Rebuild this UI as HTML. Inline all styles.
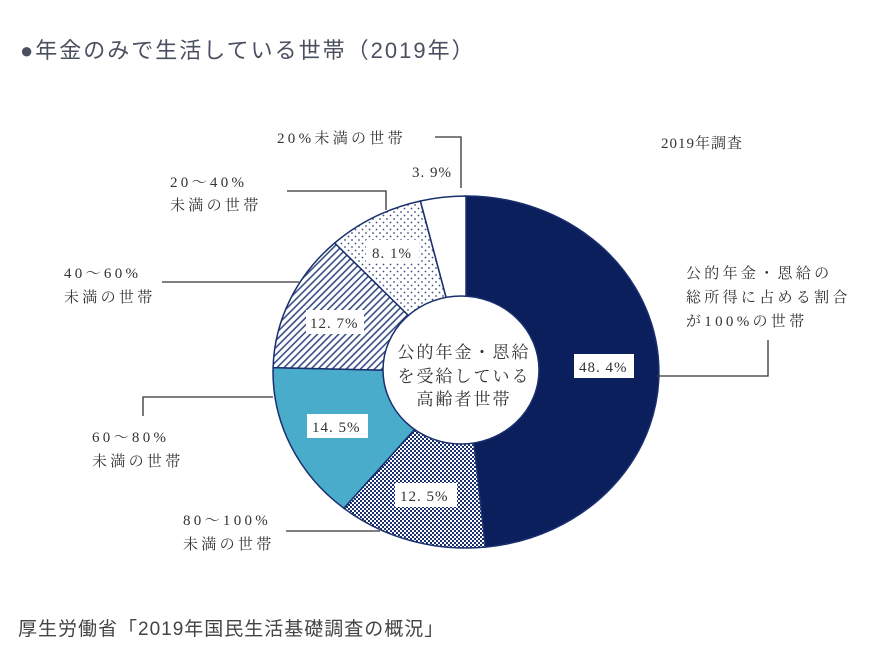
<!DOCTYPE html>
<html><head><meta charset="utf-8"><style>
body{margin:0;background:#fff;width:882px;height:660px;overflow:hidden}
svg{display:block}
.s{font-family:"Liberation Serif","Noto Serif CJK JP",serif;font-size:15px;fill:#333;letter-spacing:3.3px}
.p{font-family:"Liberation Serif","Noto Serif CJK JP",serif;font-size:15px;fill:#333;letter-spacing:1px}
.c{font-family:"Liberation Serif","Noto Serif CJK JP",serif;font-size:17px;fill:#333;letter-spacing:2px}
</style></head><body>
<svg width="882" height="660" xmlns="http://www.w3.org/2000/svg">
<defs>
<pattern id="chk" width="4" height="4" patternUnits="userSpaceOnUse">
<rect width="4" height="4" fill="#fff"/><rect width="2" height="2" fill="#1a2f6e"/><rect x="2" y="2" width="2" height="2" fill="#1a2f6e"/></pattern>
<pattern id="hat" width="5" height="5" patternUnits="userSpaceOnUse" patternTransform="rotate(45)">
<rect width="5" height="5" fill="#fff"/><rect width="1.6" height="5" fill="#3a4f86"/></pattern>
<pattern id="dot" width="7" height="7" patternUnits="userSpaceOnUse">
<rect width="7" height="7" fill="#fff"/><circle cx="2" cy="2" r="0.9" fill="#3a4f86"/><circle cx="5.5" cy="5.5" r="0.9" fill="#3a4f86"/></pattern>
</defs>
<text x="20" y="58" font-family="'Liberation Sans','Noto Sans CJK JP',sans-serif" font-size="22" letter-spacing="2" fill="#4a5060">●年金のみで生活している世帯（2019年）</text>
<g stroke="#1a2f6e" stroke-width="1.5" stroke-linejoin="round">
<path d="M466,372 L466,196 A193,176 0 0 1 485.4,547.1 Z" fill="#0b1f5c"/>
<path d="M466,372 L485.4,547.1 A193,176 0 0 1 343.9,508.3 Z" fill="url(#chk)"/>
<path d="M466,372 L343.9,508.3 A193,176 0 0 1 273.1,367.6 Z" fill="#4aaccb"/>
<path d="M466,372 L273.1,367.6 A193,176 0 0 1 334.7,243 Z" fill="url(#hat)"/>
<path d="M466,372 L334.7,243 A193,176 0 0 1 420.4,201 Z" fill="url(#dot)"/>
<path d="M466,372 L420.4,201 A193,176 0 0 1 466,196 Z" fill="#fff"/>
<ellipse cx="461" cy="370" rx="78" ry="74" fill="#fff"/>
</g>
<g fill="#fff">
<rect x="574" y="354" width="60" height="24"/><rect x="366" y="240" width="53" height="23"/>
<rect x="306" y="310" width="58" height="24"/><rect x="307" y="414" width="61" height="24"/>
<rect x="395" y="483" width="62" height="24"/></g>
<g class="p">
<text x="579" y="372">48. 4%</text><text x="372" y="258">8. 1%</text>
<text x="310" y="328">12. 7%</text><text x="312" y="432">14. 5%</text><text x="400" y="501">12. 5%</text>
<text x="412" y="177">3. 9%</text>
</g>
<g class="s">
<text x="277" y="143">20%未満の世帯</text>
<text x="170" y="187">20～40%</text><text x="170" y="210">未満の世帯</text>
<text x="64" y="278">40～60%</text><text x="64" y="302">未満の世帯</text>
<text x="92" y="442">60～80%</text><text x="92" y="466">未満の世帯</text>
<text x="183" y="525">80～100%</text><text x="183" y="549">未満の世帯</text>
<text x="661" y="148" letter-spacing="1">2019年調査</text>
<text x="686" y="278">公的年金・恩給の</text><text x="686" y="302">総所得に占める割合</text><text x="686" y="326">が100%の世帯</text>
</g>
<g class="c" text-anchor="middle">
<text x="464" y="358">公的年金・恩給</text><text x="464" y="382">を受給している</text><text x="464" y="405">高齢者世帯</text>
</g>
<g fill="none" stroke="#333" stroke-width="1.3">
<path d="M435,137 H461 V188"/><path d="M287,191 H386 V210"/><path d="M162,282 H299"/>
<path d="M143,416 V397 H273"/><path d="M286,531 H380"/><path d="M655,376 H768 V340"/>
</g>
<text x="18" y="635" font-family="'Liberation Sans','Noto Sans CJK JP',sans-serif" font-size="19" letter-spacing="1" fill="#444">厚生労働省「2019年国民生活基礎調査の概況」</text>
</svg>
</body></html>
